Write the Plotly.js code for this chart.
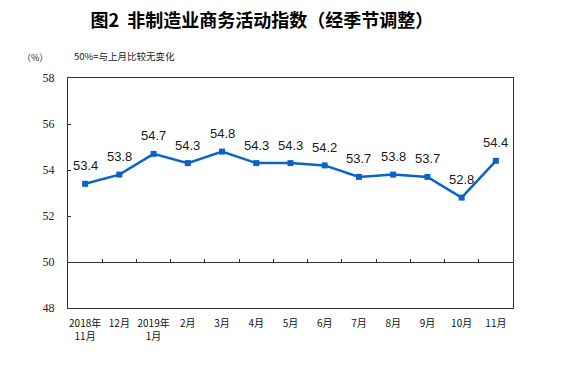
<!DOCTYPE html>
<html><head><meta charset="utf-8">
<script src="https://cdn.plot.ly/plotly-3.0.1.min.js"></script>
<style>html,body{margin:0;padding:0;background:#fff;}#chart{width:582px;height:369px;}</style>
</head><body><div id="chart"></div>
<script>
const categories = ["2018年<br>11月","12月","2019年<br>1月","2月","3月","4月","5月","6月","7月","8月","9月","10月","11月"];
const values = [53.4, 53.8, 54.7, 54.3, 54.8, 54.3, 54.3, 54.2, 53.7, 53.8, 53.7, 52.8, 54.4];
const yTicks = [48, 50, 52, 54, 56, 58];

const cjk = '"Noto Sans CJK SC", "Noto Sans", sans-serif';
const blue = '#0a64c8';

const traces = [
  {
    x: categories, y: values, type: 'scatter', mode: 'lines+markers',
    line: {color: blue, width: 2.5},
    marker: {symbol: 'square', size: 6, color: blue},
    hoverinfo: 'skip', cliponaxis: false
  },
  {
    x: categories, y: values, xaxis: 'x2', type: 'scatter', mode: 'markers',
    marker: {opacity: 0}, hoverinfo: 'skip', showlegend: false
  }
];

const annotations = categories.map((c, i) => ({
  x: c, y: values[i], xref: 'x', yref: 'y',
  text: values[i].toFixed(1), showarrow: false, yshift: 18,
  font: {family: 'Arial, "Liberation Sans", sans-serif', size: 13, color: '#1a1a1a'}
}));
annotations.push({
  xref: 'paper', yref: 'paper', x: -0.075, y: 1.09, xanchor: 'center', yanchor: 'middle',
  text: '（%）', showarrow: false, font: {family: cjk, size: 9, color: '#222'}
});
annotations.push({
  xref: 'paper', yref: 'paper', x: 0.01, y: 1.095, xanchor: 'left', yanchor: 'middle',
  text: '50%=与上月比较无变化', showarrow: false, font: {family: cjk, size: 9.5, color: '#222'}
});

const layout = {
  width: 582, height: 369,
  margin: {l: 68, r: 69, t: 78, b: 61},
  paper_bgcolor: '#fff', plot_bgcolor: '#fff',
  showlegend: false,
  title: {
    text: '<b>图2  非制造业商务活动指数（经季节调整）</b>',
    font: {family: cjk, size: 18, color: '#000'},
    x: 0.45, xanchor: 'center', y: 0.943, yanchor: 'middle'
  },
  xaxis: {
    type: 'category', range: [-0.5, 12.5],
    showline: true, mirror: true, linecolor: '#333', linewidth: 1,
    ticks: '', showgrid: false, zeroline: false,
    tickfont: {family: cjk, size: 10, color: '#111'},
    ticklabelstandoff: 6
  },
  xaxis2: {
    type: 'category', range: [-0.5, 12.5], overlaying: 'x', anchor: 'free', position: 0.2,
    side: 'bottom',
    showline: true, linecolor: '#333', linewidth: 1,
    ticks: 'inside', tickson: 'boundaries', ticklen: 3, tickcolor: '#333',
    showticklabels: false, showgrid: false, zeroline: false
  },
  yaxis: {
    range: [48, 58], tickvals: yTicks, ticktext: yTicks.map(String),
    showline: true, mirror: true, linecolor: '#333', linewidth: 1,
    ticks: 'inside', ticklen: 3, tickcolor: '#333',
    showgrid: false, zeroline: false,
    tickfont: {family: '"Liberation Serif", "Times New Roman", serif', size: 12, color: '#222'},
    ticklabelstandoff: 10
  },
  annotations: annotations
};

Plotly.newPlot('chart', traces, layout, {displayModeBar: false, staticPlot: true});
</script></body></html>
